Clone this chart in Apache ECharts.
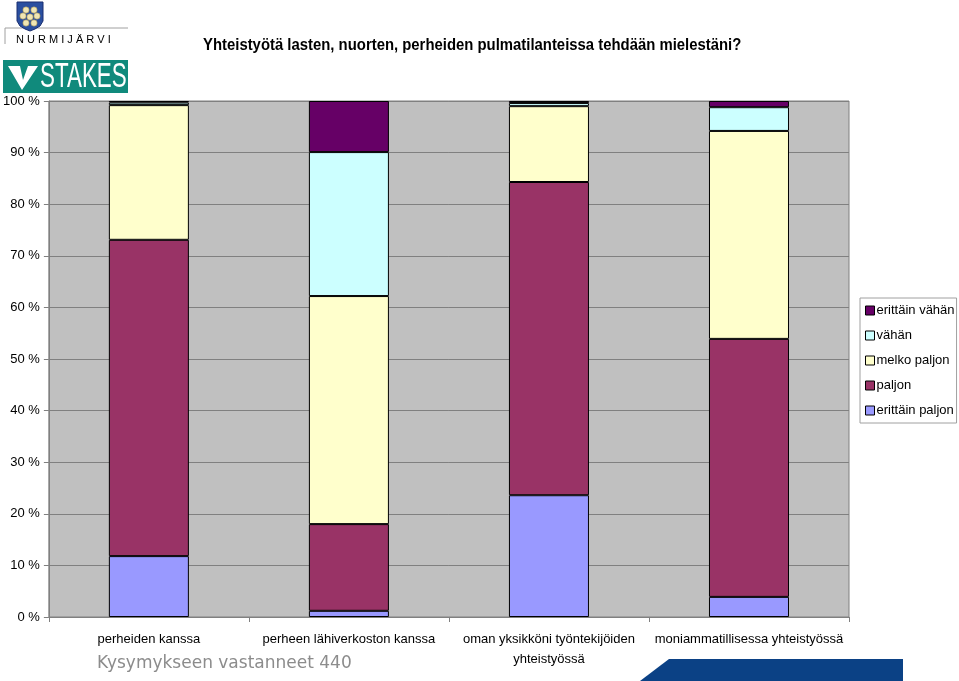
<!DOCTYPE html>
<html>
<head>
<meta charset="utf-8">
<script src="https://cdn.jsdelivr.net/npm/echarts@6/dist/echarts.min.js"></script>
<style>
html, body { margin: 0; padding: 0; background: #fff; }
#chart { width: 959px; height: 681px; }
</style>
</head>
<body>
<div id="chart"></div>
<script>
// kategoriat ja sarjat (osuudet %)
var categories = ['perheiden kanssa', 'perheen lähiverkoston kanssa', 'oman yksikköni työntekijöiden\nyhteistyössä', 'moniammatillisessa yhteistyössä'];
var seriesNames = ['erittäin paljon', 'paljon', 'melko paljon', 'vähän', 'erittäin vähän'];
var erittainPaljon = [11.8, 1.2, 23.6, 3.9];
var paljon = [61.3, 16.8, 60.7, 50.0];
var melkoPaljon = [26.1, 44.2, 14.7, 40.3];
var vahan = [0.5, 27.9, 0.6, 4.6];
var erittainVahan = [0.3, 9.9, 0.4, 1.2];
var yTicks = [0, 10, 20, 30, 40, 50, 60, 70, 80, 90, 100];

var colors = ['#9999FF', '#993366', '#FFFFCC', '#CCFFFF', '#660066'];
var values = [erittainPaljon, paljon, melkoPaljon, vahan, erittainVahan];

var chart = echarts.init(document.getElementById('chart'));

var series = [];
seriesNames.forEach(function (name, i) {
  series.push({
    name: name,
    type: 'bar',
    stack: 'all',
    barWidth: '40%',
    itemStyle: { color: colors[i], borderColor: '#000', borderWidth: 1 },
    data: values[i]
  });
});

// logot
var logo = [];
[[26, 10], [34, 10], [23, 16], [30, 17], [37, 16], [26, 23], [34, 23]].forEach(function (p) {
  logo.push({
    type: 'circle',
    shape: { cx: p[0], cy: p[1], r: 3.2 },
    style: { fill: '#f0e6b4', stroke: '#8a7a40', lineWidth: 0.5 },
    z: 12
  });
});

var option = {
  backgroundColor: '#fff',
  animation: false,
  color: colors,
  textStyle: { fontFamily: 'Liberation Sans, Arial, sans-serif' },
  grid: {
    left: 48, right: 110, top: 101, bottom: 64,
    show: true, backgroundColor: '#C0C0C0', borderColor: '#808080', borderWidth: 1
  },
  legend: {
    orient: 'vertical',
    left: 860, top: 298,
    padding: [6, 2, 6, 5],
    backgroundColor: '#fff',
    borderColor: '#A0A0A0',
    borderWidth: 1,
    itemWidth: 9, itemHeight: 9, itemGap: 12,
    icon: 'rect',
    itemStyle: { borderColor: '#000', borderWidth: 1 },
    textStyle: { fontSize: 13, color: '#000', padding: [0, 0, 0, -3] },
    data: seriesNames.slice().reverse()
  },
  xAxis: {
    type: 'category',
    data: categories,
    axisLine: { lineStyle: { color: '#808080' } },
    axisTick: { show: true, length: 5, lineStyle: { color: '#808080' } },
    axisLabel: { color: '#000', fontSize: 13, margin: 12, lineHeight: 20, interval: 0 }
  },
  yAxis: {
    type: 'value',
    min: yTicks[0], max: yTicks[yTicks.length - 1], interval: 10,
    axisLine: { show: true, lineStyle: { color: '#808080' } },
    axisTick: { show: true, length: 5, lineStyle: { color: '#808080' } },
    axisLabel: { color: '#000', fontSize: 13, margin: 9, formatter: '{value} %' },
    splitLine: { lineStyle: { color: '#808080' } }
  },
  graphic: [
    // otsikko
    {
      type: 'text', x: 203, y: 38, scaleX: 0.93,
      style: {
        text: 'Yhteistyötä lasten, nuorten, perheiden pulmatilanteissa tehdään mielestäni?',
        font: 'bold 16px Liberation Sans, Arial, sans-serif', fill: '#000'
      }
    },
    // Nurmijärvi
    {
      type: 'polyline',
      shape: { points: [[5, 44], [5, 28], [128, 28]] },
      style: { stroke: '#a0a0a0', lineWidth: 1, fill: null }
    },
    {
      type: 'polygon',
      shape: { points: [[17, 2], [43, 2], [43, 21], [40, 26], [35, 29], [30, 31], [25, 29], [20, 26], [17, 21]] },
      style: { fill: '#2a4fa0', stroke: '#1a2f70', lineWidth: 1 },
      z: 11
    }
  ].concat(logo).concat([
    {
      type: 'text', x: 16, y: 34,
      style: { text: 'N U R M I J Ä R V I', font: '11px Liberation Sans, Arial, sans-serif', fill: '#000' }
    },
    // STAKES
    {
      type: 'rect', shape: { x: 3, y: 60, width: 125, height: 33 },
      style: { fill: '#108a7c' }
    },
    {
      type: 'polygon',
      shape: { points: [[8, 66], [20, 66], [23, 80], [28, 66], [38, 66], [22, 90]] },
      style: { fill: '#fff' },
      z: 11
    },
    {
      type: 'text', x: 40, y: 60, scaleX: 0.64,
      style: { text: 'STAKES', font: '35px Liberation Sans, Arial, sans-serif', fill: '#fff' },
      z: 11
    },
    // alatunniste
    {
      type: 'text', x: 97, y: 655,
      style: { text: 'Kysymykseen vastanneet 440', font: '17px DejaVu Sans, sans-serif', fill: '#8c8c8c' }
    },
    {
      type: 'polygon',
      shape: { points: [[669, 659], [903, 659], [903, 681], [640, 681]] },
      style: { fill: '#0b4185' }
    }
  ]),
  series: series
};

chart.setOption(option);
</script>
</body>
</html>
